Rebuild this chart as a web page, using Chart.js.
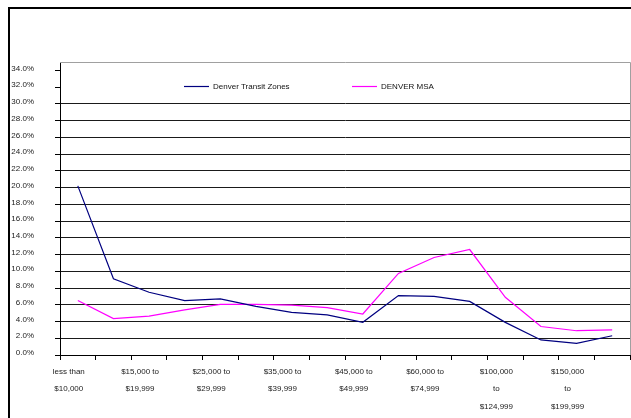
<!DOCTYPE html>
<html>
<head>
<meta charset="utf-8">
<script src="https://cdn.jsdelivr.net/npm/chart.js@4/dist/chart.umd.min.js"></script>
<style>
  body { margin: 0; background: #fff; }
  canvas { display: block; }
</style>
</head>
<body>
<canvas id="incomeChart" width="631" height="418"></canvas>
<script>
// Household income distribution
const categories = [
    'less than $10,000', '$10,000 to $14,999', '$15,000 to $19,999', '$20,000 to $24,999',
    '$25,000 to $29,999', '$30,000 to $34,999', '$35,000 to $39,999', '$40,000 to $44,999',
    '$45,000 to $49,999', '$50,000 to $59,999', '$60,000 to $74,999', '$75,000 to $99,999',
    '$100,000 to $124,999', '$125,000 to $149,999', '$150,000 to $199,999', '$200,000 or more'
];
// only every other category gets a label on the axis
const tickLabels = [
    ['less than', '$10,000'],
    ['$15,000 to', '$19,999'],
    ['$25,000 to', '$29,999'],
    ['$35,000 to', '$39,999'],
    ['$45,000 to', '$49,999'],
    ['$60,000 to', '$74,999'],
    ['$100,000', 'to', '$124,999'],
    ['$150,000', 'to', '$199,999']
];
const yTickValues = [0, 2, 4, 6, 8, 10, 12, 14, 16, 18, 20, 22, 24, 26, 28, 30, 32, 34];
const transitZones = [20.2, 9.1, 7.5, 6.5, 6.7, 5.8, 5.1, 4.8, 3.9, 7.1, 7.0, 6.4, 3.9, 1.8, 1.4, 2.3];
const denverMsa = [6.5, 4.35, 4.65, 5.4, 6.05, 6.05, 5.95, 5.65, 4.9, 9.75, 11.65, 12.6, 6.9, 3.4, 2.9, 3.0];
const seriesNames = ['Denver Transit Zones', 'DENVER MSA'];
const seriesColors = ['#000080', '#ff00ff'];

const FONT = { family: '"Liberation Sans", Arial, sans-serif', size: 8 };

// outer frame + grey plot border
const framePlugin = {
    id: 'frame',
    afterDraw(chart) {
        const c = chart.ctx;
        const a = chart.chartArea;
        c.save();
        c.fillStyle = '#000';
        c.fillRect(8, 7, 2, chart.height - 7);
        c.fillRect(8, 7, chart.width - 8, 2);
        c.strokeStyle = '#a0a0a0';
        c.lineWidth = 1;
        c.beginPath();
        c.moveTo(a.left, a.top + 0.5);
        c.lineTo(a.right + 0.5, a.top + 0.5);
        c.lineTo(a.right + 0.5, a.bottom);
        c.stroke();
        c.restore();
    }
};

// legend drawn inside the plot area, like the original
const legendPlugin = {
    id: 'innerLegend',
    afterDatasetsDraw(chart) {
        const c = chart.ctx;
        const a = chart.chartArea;
        const y = a.top + 24.5;
        const starts = [a.left + 124, a.left + 292];
        c.save();
        c.font = FONT.size + 'px ' + FONT.family;
        c.textBaseline = 'middle';
        c.fillStyle = '#111';
        chart.data.datasets.forEach((ds, i) => {
            const x = starts[i];
            c.strokeStyle = ds.borderColor;
            c.lineWidth = 1.2;
            c.beginPath();
            c.moveTo(x, y);
            c.lineTo(x + 25, y);
            c.stroke();
            c.fillText(ds.label, x + 29, y);
        });
        c.restore();
    }
};

new Chart(document.getElementById('incomeChart'), {
    type: 'line',
    data: {
        labels: categories,
        datasets: [
            {
                label: seriesNames[0],
                data: transitZones,
                borderColor: seriesColors[0],
                borderWidth: 1.2,
                pointRadius: 0,
                tension: 0,
                fill: false
            },
            {
                label: seriesNames[1],
                data: denverMsa,
                borderColor: seriesColors[1],
                borderWidth: 1.2,
                pointRadius: 0,
                tension: 0,
                fill: false
            }
        ]
    },
    options: {
        responsive: false,
        animation: false,
        layout: { padding: { left: 0, right: 1, top: 62, bottom: 0 } },
        plugins: {
            legend: { display: false },
            tooltip: { enabled: false }
        },
        scales: {
            x: {
                offset: true,
                afterFit: (s) => { s.height = 63; },
                border: { color: '#000', width: 1 },
                grid: {
                    offset: true,
                    drawOnChartArea: false,
                    drawTicks: true,
                    tickLength: 5,
                    tickColor: '#000'
                },
                ticks: {
                    autoSkip: false,
                    maxRotation: 0,
                    padding: 3,
                    labelOffset: -9,
                    color: '#222',
                    font: { ...FONT, lineHeight: 17.5 / 8 },
                    callback: (v, i) => (i % 2 === 0 ? tickLabels[i / 2] : '')
                }
            },
            y: {
                min: 0,
                max: 35,
                afterFit: (s) => { s.width = 60; },
                afterBuildTicks: (s) => { s.ticks = yTickValues.map(v => ({ value: v })); },
                border: { color: '#000', width: 1 },
                grid: {
                    color: (ctx) => (ctx.tick && ctx.tick.value <= 30 ? '#1a1a1a' : 'rgba(0,0,0,0)'),
                    tickColor: '#000',
                    tickLength: 5,
                    lineWidth: 1
                },
                ticks: {
                    padding: 21,
                    labelOffset: -2,
                    color: '#222',
                    font: FONT,
                    callback: (v) => v.toFixed(1) + '%'
                }
            }
        }
    },
    plugins: [framePlugin, legendPlugin]
});
</script>
</body>
</html>
